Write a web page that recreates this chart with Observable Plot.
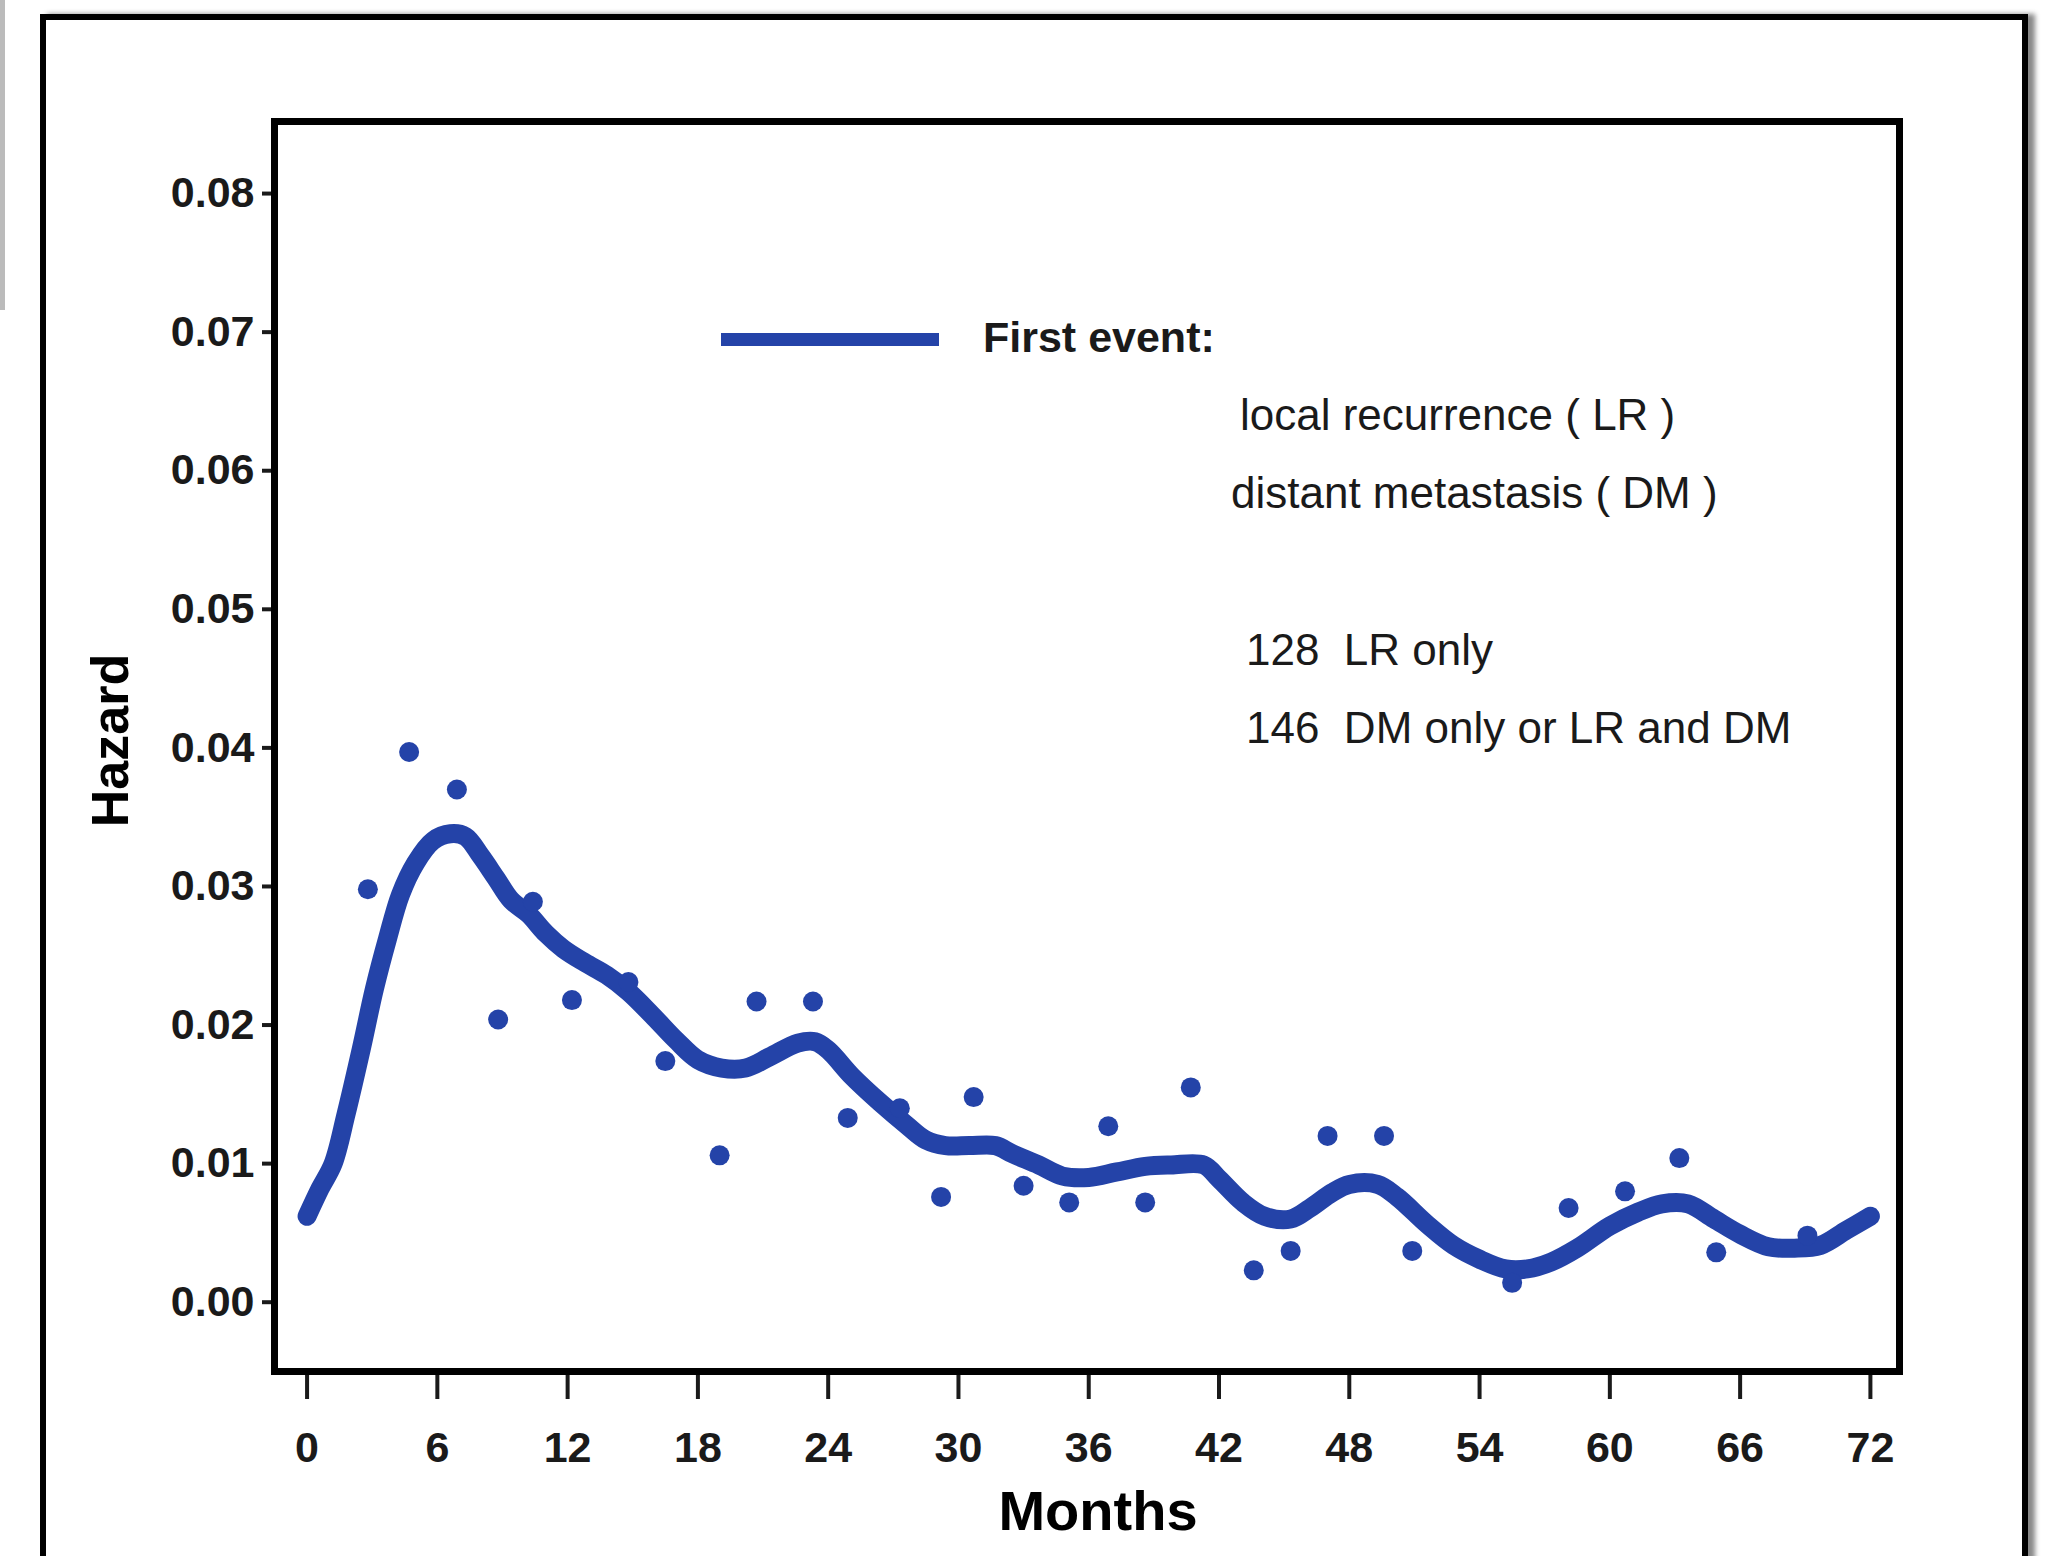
<!DOCTYPE html>
<html>
<head>
<meta charset="utf-8">
<script src="https://cdn.jsdelivr.net/npm/d3@7"></script>
<script src="https://cdn.jsdelivr.net/npm/@observablehq/plot@0.6"></script>
<style>
  html, body { margin: 0; padding: 0; background: #fff; }
  body { width: 2045px; height: 1556px; overflow: hidden; position: relative; font-family: "Liberation Sans", Arial, sans-serif; }
  #chart { position: absolute; left: 0; top: 0; }
  #outer { position: absolute; left: 40px; top: 14px; width: 1976px; height: 1700px; border: 6px solid #000; box-shadow: 7px 0 5px #888; }
  #edge { position: absolute; left: 0; top: 0; width: 5px; height: 310px; background: #bbb; }
  .lg { position: absolute; white-space: pre; color: #1a1a1a; line-height: 44px; }
  #swatch { position: absolute; left: 721px; top: 333px; width: 218px; height: 13px; }
</style>
</head>
<body>
<div id="edge"></div>
<div id="outer"></div>
<div id="chart"></div>
<div id="swatch"></div>
<div id="legend"></div>
<script>
// ---- data ----
const xTicks = [0, 6, 12, 18, 24, 30, 36, 42, 48, 54, 60, 66, 72];
const yTicks = [0, 0.01, 0.02, 0.03, 0.04, 0.05, 0.06, 0.07, 0.08];

// smoothed hazard curve (months, hazard)
const curveMonths = [0, 0.6, 1.2, 1.8, 2.5, 3.1, 3.7, 4.3, 5.0, 5.8, 6.6, 7.3, 8.0, 8.7, 9.4, 10.2, 11.0, 11.8, 12.8, 13.8,
  14.8, 15.9, 17.0, 18.0, 19.1, 20.2, 21.3, 22.6, 23.4, 24.0, 25.1, 26.4, 27.6, 28.5, 29.4, 30.5, 31.7, 32.5, 33.7, 34.8,
  36.0, 37.3, 38.6, 39.8, 41.3, 42.0, 43.1, 44.1, 45.3, 46.2, 47.2, 48.0, 49.3, 50.2, 51.6, 52.8, 54.0, 55.2, 56.2, 57.3,
  58.5, 60.0, 61.3, 62.4, 63.6, 64.8, 66.0, 67.3, 68.5, 69.7, 70.9, 72.0];
const curveHazard = [0.0062, 0.0082, 0.0100, 0.0136, 0.0183, 0.0226, 0.0262, 0.0294, 0.0317, 0.0333, 0.0338, 0.0336, 0.0322, 0.0306, 0.0290, 0.0280, 0.0266, 0.0255, 0.0245, 0.0236,
  0.0224, 0.0207, 0.0189, 0.0175, 0.0169, 0.0169, 0.0177, 0.0187, 0.0188, 0.0182, 0.0163, 0.0144, 0.0128, 0.0117, 0.0113, 0.0113, 0.0113, 0.0107, 0.0099, 0.0091,
  0.0090, 0.0094, 0.0098, 0.0099, 0.0099, 0.0089, 0.0072, 0.0062, 0.0060, 0.0068, 0.0079, 0.0085, 0.0085, 0.0076, 0.0056, 0.0041, 0.0031, 0.0024, 0.0024, 0.0029,
  0.0039, 0.0055, 0.0065, 0.0071, 0.0071, 0.0060, 0.0049, 0.0040, 0.0039, 0.0041, 0.0052, 0.0062];

// observed hazard points (months, hazard)
const pointMonths = [2.8, 4.7, 6.9, 8.8, 10.4, 12.2, 14.8, 16.5, 19.0, 20.7, 23.3, 24.9, 27.3, 29.2, 30.7, 33.0,
  35.1, 36.9, 38.6, 40.7, 43.6, 45.3, 47.0, 49.6, 50.9, 55.5, 58.1, 60.7, 63.2, 64.9, 69.1];
const pointHazard = [0.0298, 0.0397, 0.0370, 0.0204, 0.0289, 0.0218, 0.0231, 0.0174, 0.0106, 0.0217, 0.0217, 0.0133, 0.0140, 0.0076, 0.0148, 0.0084,
  0.0072, 0.0127, 0.0072, 0.0155, 0.0023, 0.0037, 0.0120, 0.0120, 0.0037, 0.0014, 0.0068, 0.0080, 0.0104, 0.0036, 0.0048];

const legendTitle = "First event:";
const legendLines = ["local recurrence ( LR )", "distant metastasis ( DM )", "128  LR only", "146  DM only or LR and DM"];
const xLabel = "Months";
const yLabel = "Hazard";

// ---- chart ----
const blue = "#2443a8";
const curve = curveMonths.map((m, i) => ({m, h: curveHazard[i]}));
const points = pointMonths.map((m, i) => ({m, h: pointHazard[i]}));

const chart = Plot.plot({
  width: 2045,
  height: 1556,
  marginLeft: 274,
  marginRight: 146,
  marginTop: 121,
  marginBottom: 185,
  x: {domain: [-1.5, 73.34]},
  y: {domain: [-0.005, 0.0852]},
  style: {
    fontFamily: "'Liberation Sans', Arial, sans-serif",
    fontWeight: "bold",
    color: "#1a1a1a",
    background: "transparent",
    overflow: "visible"
  },
  marks: [
    Plot.axisY({ticks: yTicks, tickFormat: d3.format(".2f"), tickSize: 12, tickPadding: 8, strokeWidth: 4,
      fontSize: 43, fontWeight: "bold", label: null}),
    Plot.axisX({ticks: xTicks, tickSize: 28, tickPadding: 32, strokeWidth: 4,
      fontSize: 43, fontWeight: "bold", label: null}),
    Plot.frame({stroke: "#000", strokeWidth: 7}),
    Plot.text([yLabel], {frameAnchor: "left", textAnchor: "middle", dx: -163, dy: -6, rotate: -90, fontSize: 52, fontWeight: "bold", fill: "#000"}),
    Plot.text([xLabel], {frameAnchor: "bottom", dx: 11, dy: 158, fontSize: 56, fontWeight: "bold", fill: "#000"}),
    Plot.line(curve, {x: "m", y: "h", stroke: blue, strokeWidth: 19, curve: "catmull-rom", strokeLinecap: "round", strokeLinejoin: "round"}),
    Plot.dot(points, {x: "m", y: "h", r: 10, fill: blue})
  ]
});
document.getElementById("chart").appendChild(chart);

// ---- legend (HTML overlay) ----
document.getElementById("swatch").style.background = blue;
const legend = document.getElementById("legend");
const items = [
  {text: legendTitle, left: 983, top: 315, bold: true, size: 43},
  {text: legendLines[0], left: 1240, top: 393, bold: false, size: 44},
  {text: legendLines[1], left: 1231, top: 471, bold: false, size: 44},
  {text: legendLines[2], left: 1246, top: 628, bold: false, size: 44},
  {text: legendLines[3], left: 1246, top: 706, bold: false, size: 44}
];
for (const it of items) {
  const d = document.createElement("div");
  d.className = "lg";
  d.textContent = it.text;
  d.style.left = it.left + "px";
  d.style.top = it.top + "px";
  d.style.fontSize = it.size + "px";
  d.style.fontWeight = it.bold ? "bold" : "normal";
  legend.appendChild(d);
}
</script>
</body>
</html>
